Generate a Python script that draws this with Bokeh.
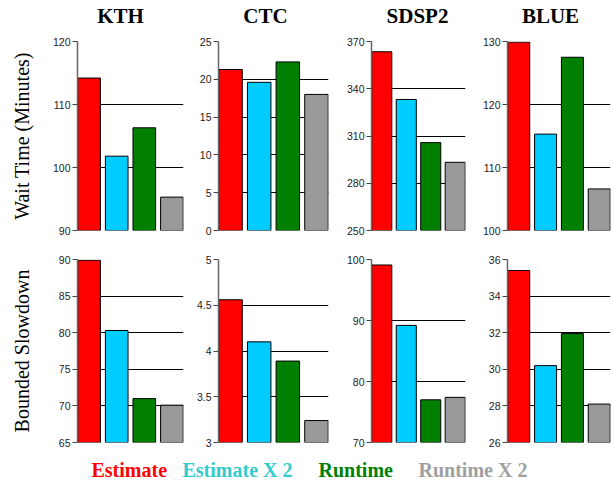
from bokeh.plotting import figure
from bokeh.models import FixedTicker, Range1d, ColumnDataSource, NumeralTickFormatter
from bokeh.layouts import column, row
from bokeh.embed import file_html
from bokeh.resources import INLINE
from bokeh.core.properties import value

sites = ["KTH", "CTC", "SDSP2", "BLUE"]
series = ["Estimate", "Estimate X 2", "Runtime", "Runtime X 2"]
bar_colors = ["#FF0000", "#00CCFF", "#007F00", "#999999"]
legend_colors = ["#FF0000", "#33CCCC", "#008000", "#A0A0A0"]

wait_kth = [114.2, 101.8, 106.3, 95.3]
wait_ctc = [21.3, 19.6, 22.3, 18.0]
wait_sdsp2 = [363.5, 333.2, 305.8, 293.3]
wait_blue = [129.9, 115.3, 127.5, 106.6]
slow_kth = [89.9, 80.3, 71.0, 70.1]
slow_ctc = [4.56, 4.10, 3.89, 3.24]
slow_sdsp2 = [99.1, 89.2, 77.0, 77.4]
slow_blue = [35.4, 30.2, 31.95, 28.1]

wait_ticks = [[90, 100, 110, 120], [0, 5, 10, 15, 20, 25], [250, 280, 310, 340, 370], [100, 110, 120, 130]]
slow_ticks = [[65, 70, 75, 80, 85, 90], [3, 3.5, 4, 4.5, 5], [70, 80, 90, 100], [26, 28, 30, 32, 34, 36]]

row_labels = ["Wait Time (Minutes)", "Bounded Slowdown"]

# layout geometry (pixels)
col_widths = [190, 145, 137, 140]
col_left = [77, 28, 36, 35]
col_right = [7, 7, 7, 2]
row_heights = [210, 210]
row_top = [6, 14]
row_bottom = [15, 13]
title_h = 35
legend_h = 25
title_cx = [120, 265, 417, 550]
title_cy = 15
legend_x = [91, 182, 318, 418]
legend_cy = 14


def panel(vals, ticks, ci, ri, ylabel=None, standoff=0):
    p = figure(width=col_widths[ci], height=row_heights[ri], output_backend="svg",
               toolbar_location=None, tools="",
               x_range=Range1d(-0.42, 3.42), y_range=Range1d(ticks[0], ticks[-1]),
               min_border_left=col_left[ci], min_border_right=col_right[ci],
               min_border_top=row_top[ri], min_border_bottom=row_bottom[ri])
    src = ColumnDataSource(dict(x=[0, 1, 2, 3], top=vals, color=bar_colors))
    p.vbar(x="x", top="top", bottom=ticks[0], width=0.82, source=src,
           fill_color="color", line_color="black", line_width=1)
    p.xaxis.visible = False
    p.xgrid.visible = False
    p.ygrid.ticker = FixedTicker(ticks=ticks)
    p.ygrid.grid_line_color = "black"
    p.ygrid.grid_line_width = 1
    p.outline_line_color = None
    ax = p.yaxis[0]
    ax.ticker = FixedTicker(ticks=ticks)
    ax.formatter = NumeralTickFormatter(format="0.[0]")
    ax.minor_tick_line_color = None
    ax.major_tick_in = 0
    ax.major_tick_out = 5
    ax.major_tick_line_color = "#444444"
    ax.axis_line_color = "#666666"
    ax.axis_line_width = 1.5
    ax.major_label_standoff = 2
    ax.major_label_text_font = "Liberation Sans"
    ax.major_label_text_font_size = "10.5px"
    ax.major_label_text_color = "#222222"
    if ylabel:
        ax.axis_label = ylabel
        ax.axis_label_text_font = "Liberation Serif"
        ax.axis_label_text_font_style = "normal"
        ax.axis_label_text_font_size = "20px"
        ax.axis_label_text_color = "black"
        ax.axis_label_standoff = standoff
    return p


def text_strip(h, xs, cy, texts, colors, size, align):
    w = sum(col_widths)
    f = figure(width=w, height=h, output_backend="svg", toolbar_location=None, tools="",
               x_range=Range1d(0, w), y_range=Range1d(0, h), title=None,
               min_border=0, min_border_left=0, min_border_right=0,
               min_border_top=0, min_border_bottom=0)
    f.axis.visible = False
    f.grid.visible = False
    f.outline_line_color = None
    f.text(x=xs, y=[h - cy] * len(xs), text=texts, text_color=colors,
           text_font=value("Liberation Serif"), text_font_style="bold",
           text_font_size=size, text_align=align, text_baseline="middle")
    return f


wait_vals = [wait_kth, wait_ctc, wait_sdsp2, wait_blue]
slow_vals = [slow_kth, slow_ctc, slow_sdsp2, slow_blue]

top_row = [panel(wait_vals[i], wait_ticks[i], i, 0,
                 ylabel=row_labels[0] if i == 0 else None, standoff=17) for i in range(4)]
bot_row = [panel(slow_vals[i], slow_ticks[i], i, 1,
                 ylabel=row_labels[1] if i == 0 else None, standoff=23) for i in range(4)]

titles = text_strip(title_h, title_cx, title_cy, sites, ["black"] * 4, "21px", "center")
leg = text_strip(legend_h, legend_x, legend_cy, series, legend_colors, "20px", "left")

layout = column(titles, row(*top_row), row(*bot_row), leg)

open("out.html", "w").write(file_html(layout, INLINE))
